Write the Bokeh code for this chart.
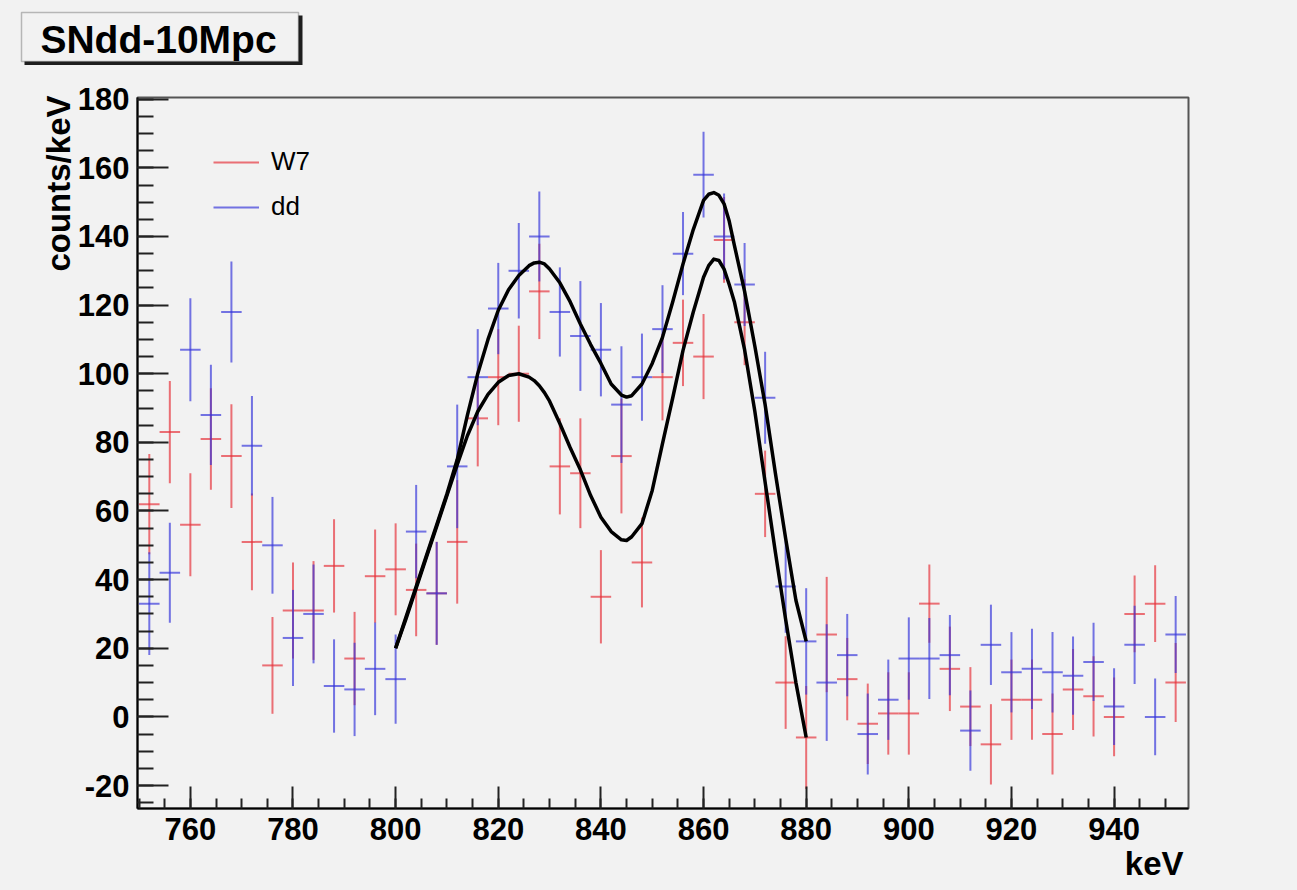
from bokeh.plotting import figure
from bokeh.layouts import column
from bokeh.models import (Range1d, FixedTicker, Legend, LegendItem, Label,
                          BoxAnnotation, ColumnDataSource, Title)
from bokeh.embed import file_html
from bokeh.resources import INLINE

# ---------------- data ----------------
bin_centers = [752, 756, 760, 764, 768, 772, 776, 780, 784, 788, 792, 796, 800,
               804, 808, 812, 816, 820, 824, 828, 832, 836, 840, 844, 848, 852,
               856, 860, 864, 868, 872, 876, 880, 884, 888, 892, 896, 900, 904,
               908, 912, 916, 920, 924, 928, 932, 936, 940, 944, 948, 952]
bin_width = 4

w7_counts = [62, 83, 56, 81, 76, 51, 15, 31, 31, 44, 17, 41, 43,
             37, 36, 51, 87, 99, 100, 124, 73, 71, 35, 76, 45, 99,
             109, 105, 139, 115, 65, 10, -6, 24, 11, -2, 1, 1, 33,
             14, 3, -8, 5, 5, -5, 8, 6, 0, 30, 33, 10]
w7_errors = [14.6, 14.9, 15.0, 14.8, 15.1, 14.1, 14.1, 14.0, 14.4, 13.6, 13.6, 13.6, 13.4,
             13.5, 15.0, 18.0, 14.0, 14.0, 14.0, 13.9, 14.0, 16.0, 13.6, 16.7, 13.1, 12.6,
             12.6, 12.4, 12.5, 12.5, 12.6, 13.5, 15.0, 16.8, 12.0, 11.7, 12.0, 12.0, 11.4,
             12.3, 11.5, 11.7, 11.7, 11.7, 11.8, 11.8, 11.7, 11.5, 11.2, 11.2, 11.5]

dd_counts = [33, 42, 107, 88, 118, 79, 50, 23, 30, 9, 8, 14, 11,
             54, 36, 73, 99, 119, 130, 140, 118, 111, 107, 91, 99, 113,
             135, 158, 140, 126, 93, 38, 22, 10, 18, -5, 5, 17, 17,
             18, -4, 21, 13, 14, 13, 12, 16, 3, 21, 0, 24]
dd_errors = [15.0, 14.6, 15.0, 14.6, 14.7, 14.5, 14.1, 14.0, 14.4, 13.6, 13.6, 13.5, 13.0,
             13.6, 15.0, 18.0, 14.0, 13.3, 13.9, 13.1, 13.0, 16.0, 13.6, 17.0, 12.7, 12.8,
             12.1, 12.5, 12.5, 12.1, 13.4, 13.5, 15.5, 17.0, 12.0, 11.8, 11.7, 12.0, 11.8,
             11.7, 11.7, 11.7, 11.7, 11.7, 11.7, 11.4, 11.4, 11.2, 11.4, 11.2, 11.2]

# fitted curves
fit_kev = [800, 802, 804, 806, 808, 810, 812, 814, 816, 818, 820, 822, 824, 826,
           827, 828, 829, 830, 832, 834, 836, 838, 840, 842, 844, 845, 846, 848,
           850, 852, 854, 856, 858, 860, 861, 862, 863, 864, 865, 866, 868, 870,
           872, 874, 876, 878, 880]
dd_fit = [20, 29, 38, 47, 56, 65, 75, 88, 100, 110, 118.5, 124.5, 128.6, 131.5,
          132.3, 132.5, 132, 130.5, 126.5, 121, 114.5, 108.5, 103, 97, 93.8, 93.2, 93.6, 97,
          103, 110.6, 121, 132, 142, 150.5, 152.3, 152.8, 152, 149.5, 144.5, 137.5, 124, 108,
          91, 71, 52, 34, 22]
w7_fit = [20, 28.5, 37.5, 46.5, 55.5, 64.5, 73.5, 82, 89, 94, 97.5, 99.5, 100, 99,
          98, 96.5, 94.5, 92, 85.5, 78.5, 72, 64.5, 58.2, 54, 51.6, 51.4, 52.5, 56.3,
          66, 79.6, 93, 106.8, 118, 128.1, 131.5, 133.4, 133, 130.5, 126, 121, 107, 89,
          68.4, 48, 28.4, 10, -6]

x_ticks = [760, 780, 800, 820, 840, 860, 880, 900, 920, 940]
x_tick_labels = ["760", "780", "800", "820", "840", "860", "880", "900", "920", "940"]
y_ticks = [-20, 0, 20, 40, 60, 80, 100, 120, 140, 160, 180]
y_tick_labels = ["-20", "0", "20", "40", "60", "80", "100", "120", "140", "160", "180"]
x_minor = list(range(750, 955, 5))
y_minor = list(range(-25, 181, 5))

series_names = ["W7", "dd"]
title_text = "SNdd-10Mpc"
x_title = "keV"
y_title = "counts/keV"

# ---------------- styling / layout ----------------
BG = "#f2f2f2"
RED = "#e6303a"
BLUE = "#3535da"
FONT = "Liberation Sans"
W = 1297
TOP_H = 83                      # height of the title strip
MAIN_H = 890 - TOP_H
X0, X1 = 749.7, 954.5
Y0, Y1 = -26.7, 180.5

# ---- title strip (its own small figure, frame == canvas, pixel coordinates) ----
tfig = figure(width=W, height=TOP_H, output_backend="svg", toolbar_location=None,
              x_range=Range1d(0, W), y_range=Range1d(TOP_H, 0), title=None,
              x_axis_type=None, y_axis_type=None, min_border=0)
tfig.frame_align = False
tfig.background_fill_color = BG
tfig.border_fill_color = BG
tfig.outline_line_color = None
tfig.add_layout(BoxAnnotation(left=24, right=302, top=15, bottom=64.5,
                              fill_color="#1e1e1e", fill_alpha=1, line_color=None))
tfig.add_layout(BoxAnnotation(left=21, right=298, top=12, bottom=61,
                              fill_color=BG, fill_alpha=1, line_color="#2a2a2a",
                              line_width=1.5))
tfig.add_layout(Label(x=158, y=38.5, text=title_text, text_font=FONT,
                      text_font_style="bold", text_font_size="39px",
                      text_align="center", text_baseline="middle",
                      text_color="black"))

# ---- main plot ----
p = figure(width=W, height=MAIN_H, output_backend="svg", toolbar_location=None,
           x_range=Range1d(X0, X1), y_range=Range1d(Y0, Y1), title=None,
           min_border_left=137, min_border_right=W - 1188,
           min_border_top=14, min_border_bottom=82)
p.frame_align = False
p.background_fill_color = BG
p.border_fill_color = BG
p.outline_line_color = "#555555"
p.outline_line_width = 2
p.xgrid.visible = False
p.ygrid.visible = False

p.xaxis.ticker = FixedTicker(ticks=x_ticks, minor_ticks=x_minor)
p.yaxis.ticker = FixedTicker(ticks=y_ticks, minor_ticks=y_minor)
p.xaxis.major_label_overrides = dict(zip(x_ticks, x_tick_labels))
p.yaxis.major_label_overrides = dict(zip(y_ticks, y_tick_labels))

for ax in (p.xaxis[0], p.yaxis[0]):
    ax.axis_line_color = "black"
    ax.axis_line_width = 2
    ax.major_tick_line_color = "#222222"
    ax.major_tick_line_width = 2
    ax.minor_tick_line_color = "#222222"
    ax.minor_tick_line_width = 2
    ax.major_label_text_font = FONT
    ax.major_label_text_font_style = "bold"
    ax.major_label_text_font_size = "31px"
    ax.major_label_text_color = "black"

p.yaxis.major_tick_in = 31
p.yaxis.major_tick_out = 0
p.yaxis.minor_tick_in = 16
p.yaxis.minor_tick_out = 0
p.yaxis.major_label_standoff = 8
p.xaxis.major_tick_in = 22
p.xaxis.major_tick_out = 0
p.xaxis.minor_tick_in = 10
p.xaxis.minor_tick_out = 0
p.xaxis.major_label_standoff = 9


def make_source(counts, errors):
    return ColumnDataSource(dict(
        x=bin_centers,
        y=counts,
        lo=[c - e for c, e in zip(counts, errors)],
        hi=[c + e for c, e in zip(counts, errors)],
        x0=[b - bin_width / 2 for b in bin_centers],
        x1=[b + bin_width / 2 for b in bin_centers],
    ))


renderers = []
for counts, errors, col in ((w7_counts, w7_errors, RED), (dd_counts, dd_errors, BLUE)):
    src = make_source(counts, errors)
    rv = p.segment(x0="x", y0="lo", x1="x", y1="hi", source=src,
                   line_color=col, line_width=2, line_alpha=0.68)
    p.segment(x0="x0", y0="y", x1="x1", y1="y", source=src,
              line_color=col, line_width=2, line_alpha=0.68)
    renderers.append(rv)

p.line(fit_kev, dd_fit, line_color="black", line_width=3.5, line_join="round")
p.line(fit_kev, w7_fit, line_color="black", line_width=3.5, line_join="round")

legend = Legend(items=[LegendItem(label=series_names[0], renderers=[renderers[0]]),
                       LegendItem(label=series_names[1], renderers=[renderers[1]])],
                location=(76, 586), orientation="vertical",
                label_text_font=FONT, label_text_font_size="26px",
                label_text_color="black",
                glyph_width=46, glyph_height=30, label_height=30,
                label_standoff=12, spacing=14, padding=0, margin=0,
                border_line_color=None, background_fill_alpha=0)
p.add_layout(legend)

# axis titles, ROOT style (right / top aligned)
p.add_layout(Title(text=y_title, align="right", standoff=-4, offset=-2,
                   text_font=FONT, text_font_style="bold", text_font_size="33px",
                   text_color="black"), "left")
p.add_layout(Title(text=x_title, align="right", standoff=0, offset=5,
                   text_font=FONT, text_font_style="bold", text_font_size="33px",
                   text_color="black"), "below")

layout = column(tfig, p, spacing=0, styles={"background-color": BG})
open("out.html", "w").write(file_html(layout, INLINE))
